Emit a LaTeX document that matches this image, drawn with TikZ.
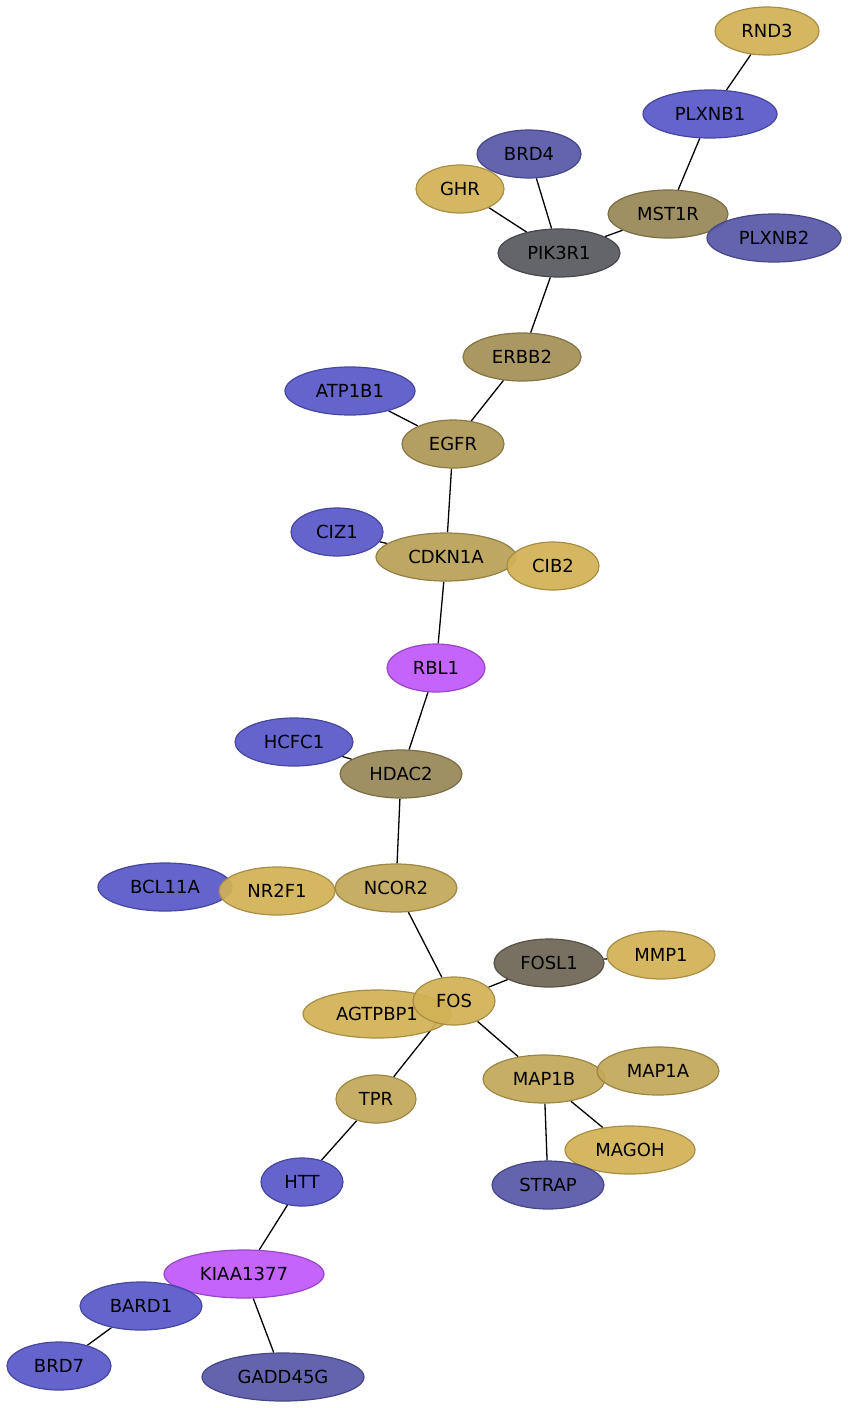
\documentclass[tikz,border=0pt]{standalone}
\usepackage{fontspec}
\setmainfont{DejaVu Sans}
\usetikzlibrary{shapes.geometric,backgrounds}
\definecolor{gold}{RGB}{210,178,86}
\definecolor{blue}{RGB}{88,88,200}
\definecolor{dblue}{RGB}{88,88,168}
\definecolor{magenta}{RGB}{192,88,250}
\definecolor{slate}{RGB}{88,89,96}
\definecolor{umber}{RGB}{110,102,86}
\definecolor{olivea}{RGB}{152,136,88}
\definecolor{oliveb}{RGB}{164,144,86}
\definecolor{olivec}{RGB}{174,152,86}
\definecolor{olived}{RGB}{184,160,86}
\definecolor{olivee}{RGB}{194,168,88}

\begin{document}
\begin{tikzpicture}[x=1pt, y=-1pt,
  gene/.style={ellipse, inner sep=0, minimum height=48, line width=1.2pt,
    fill opacity=0.93, text opacity=1, font=\fontsize{18}{21}\selectfont},
  g/.style={gene, fill=#1, draw=#1!80!black},
  link/.style={line width=1.3pt}]
\useasboundingbox (0,0) rectangle (848,1408);
\node[g=gold, minimum width=104] (rnd3) at (767,31){RND3};
\node[g=blue, minimum width=134] (plxnb1) at (710,114){PLXNB1};
\node[g=dblue, minimum width=104] (brd4) at (529,154){BRD4};
\node[g=gold, minimum width=88] (ghr) at (460,189){GHR};
\node[g=olivea, minimum width=120] (mst1r) at (668,214){MST1R};
\node[g=dblue, minimum width=134] (plxnb2) at (774,238){PLXNB2};
\node[g=slate, minimum width=122] (pik3r1) at (559,253){PIK3R1};
\node[g=oliveb, minimum width=118] (erbb2) at (522,357){ERBB2};
\node[g=blue, minimum width=130] (atp1b1) at (350,391){ATP1B1};
\node[g=olivec, minimum width=102] (egfr) at (453,444){EGFR};
\node[g=blue, minimum width=92] (ciz1) at (337,532){CIZ1};
\node[g=olived, minimum width=140] (cdkn1a) at (446,557){CDKN1A};
\node[g=gold, minimum width=92] (cib2) at (553,566){CIB2};
\node[g=magenta, minimum width=98] (rbl1) at (436,668){RBL1};
\node[g=blue, minimum width=118] (hcfc1) at (294,742){HCFC1};
\node[g=olivea, minimum width=122] (hdac2) at (401,774){HDAC2};
\node[g=blue, minimum width=134] (bcl11a) at (165,887){BCL11A};
\node[g=gold, minimum width=116] (nr2f1) at (277,891){NR2F1};
\node[g=olivee, minimum width=122] (ncor2) at (396,888){NCOR2};
\node[g=umber, minimum width=110] (fosl1) at (549,963){FOSL1};
\node[g=gold, minimum width=108] (mmp1) at (661,955){MMP1};
\node[g=gold, minimum width=148] (agtpbp1) at (377,1014){AGTPBP1};
\node[g=gold, minimum width=82] (fos) at (454,1001){FOS};
\node[g=olivee, minimum width=122] (map1b) at (544,1079){MAP1B};
\node[g=olivee, minimum width=122] (map1a) at (658,1071){MAP1A};
\node[g=olivee, minimum width=80] (tpr) at (376,1099){TPR};
\node[g=gold, minimum width=130] (magoh) at (630,1150){MAGOH};
\node[g=dblue, minimum width=112] (strap) at (548,1185){STRAP};
\node[g=blue, minimum width=82] (htt) at (302,1182){HTT};
\node[g=magenta, minimum width=160] (kiaa1377) at (244,1274){KIAA1377};
\node[g=blue, minimum width=122] (bard1) at (141,1306){BARD1};
\node[g=blue, minimum width=104] (brd7) at (59,1366){BRD7};
\node[g=dblue, minimum width=162] (gadd45g) at (283,1377){GADD45G};
\begin{pgfonlayer}{background}
\draw[link] (rnd3) -- (plxnb1);
\draw[link] (plxnb1) -- (mst1r);
\draw[link] (mst1r) -- (pik3r1);
\draw[link] (mst1r) -- (plxnb2);
\draw[link] (brd4) -- (pik3r1);
\draw[link] (ghr) -- (pik3r1);
\draw[link] (pik3r1) -- (erbb2);
\draw[link] (erbb2) -- (egfr);
\draw[link] (atp1b1) -- (egfr);
\draw[link] (egfr) -- (cdkn1a);
\draw[link] (ciz1) -- (cdkn1a);
\draw[link] (cdkn1a) -- (cib2);
\draw[link] (cdkn1a) -- (rbl1);
\draw[link] (rbl1) -- (hdac2);
\draw[link] (hcfc1) -- (hdac2);
\draw[link] (hdac2) -- (ncor2);
\draw[link] (ncor2) -- (nr2f1);
\draw[link] (nr2f1) -- (bcl11a);
\draw[link] (ncor2) -- (fos);
\draw[link] (fos) -- (fosl1);
\draw[link] (fosl1) -- (mmp1);
\draw[link] (fos) -- (agtpbp1);
\draw[link] (fos) -- (map1b);
\draw[link] (map1b) -- (map1a);
\draw[link] (map1b) -- (magoh);
\draw[link] (map1b) -- (strap);
\draw[link] (fos) -- (tpr);
\draw[link] (tpr) -- (htt);
\draw[link] (htt) -- (kiaa1377);
\draw[link] (kiaa1377) -- (bard1);
\draw[link] (bard1) -- (brd7);
\draw[link] (kiaa1377) -- (gadd45g);
\end{pgfonlayer}
\end{tikzpicture}
\end{document}
